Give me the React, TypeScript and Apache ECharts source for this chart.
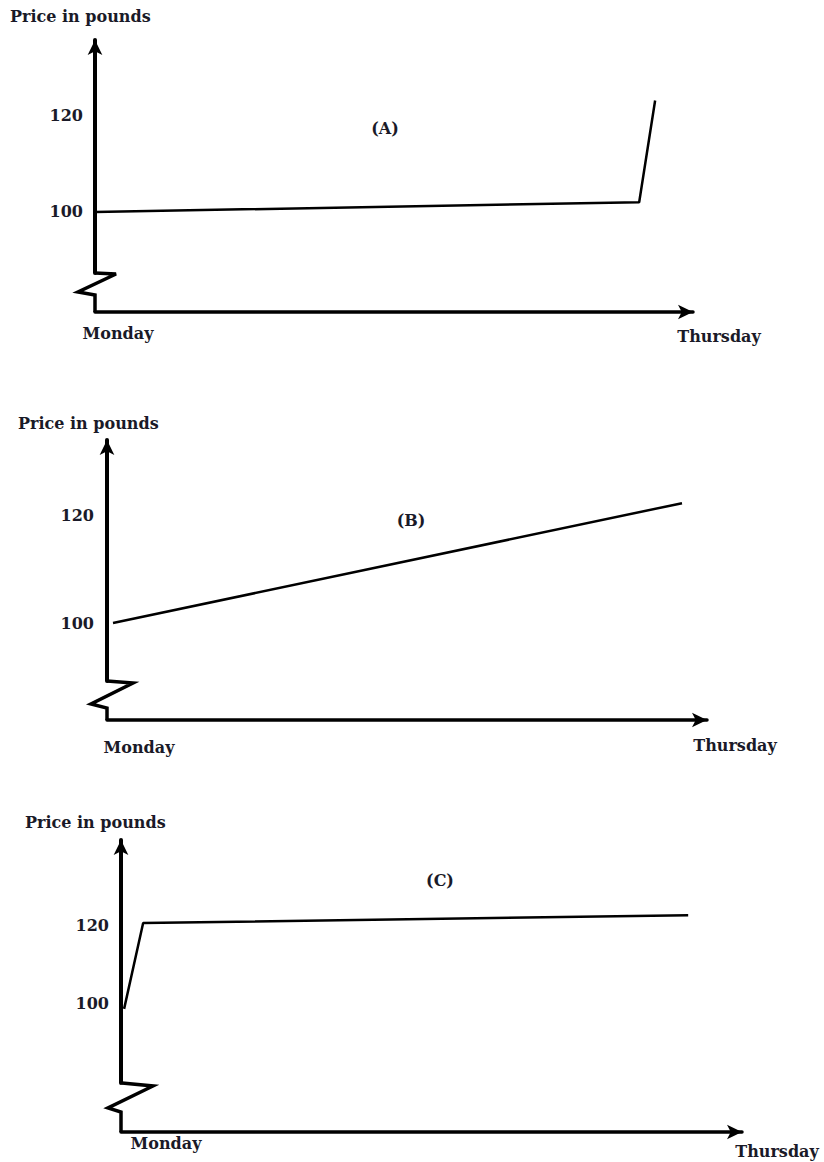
import React, { useEffect, useRef } from "react";
import * as echarts from "echarts";

// ---- data ----
const xTickValues = [0, 3];
const xTickLabels = ["Monday", "Thursday"];
const yTickValues = [100, 120];
const axisTitle = "Price in pounds";
const panelLabels = ["(A)", "(B)", "(C)"];

const seriesAX = [0, 2.73, 2.81];
const seriesAY = [100, 102, 123];
const seriesBX = [0.03, 2.875];
const seriesBY = [100, 122.2];
const seriesCX = [0.015, 0.107, 2.74];
const seriesCY = [98.5, 120.5, 122.5];

// ---- layout (pixels) ----
const panels = [
  { left: 95, width: 598, top: 40, bottom: 273, xAxisY: 312, yMin: 87.4, yMax: 135.5,
    title: [10, 16], label: [385, 128], labelMargin: 13, yLabelMargin: 12,
    monPad: [0, 0, 0, 46], thuPad: [3, 0, 0, 52],
    zig: [[95, 273], [116, 274], [78, 292], [95, 295], [95, 312]] },
  { left: 107, width: 600, top: 440, bottom: 681, xAxisY: 720, yMin: 89.26, yMax: 133.9,
    title: [18, 423], label: [411, 520], labelMargin: 17, yLabelMargin: 13,
    monPad: [2, 0, 0, 64], thuPad: [0, 0, 0, 56],
    zig: [[107, 681], [133, 683], [91, 704], [107, 708], [107, 720]] },
  { left: 121, width: 621, top: 840, bottom: 1083, xAxisY: 1132, yMin: 79.5, yMax: 141.8,
    title: [25, 822], label: [440, 880], labelMargin: 3, yLabelMargin: 12,
    monPad: [0, 0, 0, 90], thuPad: [8, 0, 0, 70],
    zig: [[122, 1083], [153, 1086], [108, 1108], [121, 1112], [121, 1132]] },
];

const seriesX = [seriesAX, seriesBX, seriesCX];
const seriesY = [seriesAY, seriesBY, seriesCY];

const FONT = "'DejaVu Serif', serif";
const TEXT = "#1a1a28";

export default function App() {
  const ref = useRef<HTMLDivElement>(null);
  useEffect(() => {
    if (!ref.current) return;
    const chart = echarts.init(ref.current, null, { renderer: "svg" });
    const grid = panels.map((p) => ({
      left: p.left, top: p.top, width: p.width, height: p.bottom - p.top, containLabel: false,
    }));
    const xAxis = panels.map((p, i) => ({
      type: "value", gridIndex: i, min: 0, max: 3, interval: 3,
      offset: p.xAxisY - p.bottom,
      axisLine: { show: true, symbol: ["none", "arrow"], symbolSize: [11, 15],
        lineStyle: { color: "#000", width: 3.5 } },
      axisTick: { show: false }, splitLine: { show: false },
      axisLabel: {
        show: true, margin: p.labelMargin, showMinLabel: true, showMaxLabel: true,
        formatter: (v: number) => {
          const idx = xTickValues.indexOf(v);
          if (idx < 0) return "";
          return idx === 0 ? `{m|${xTickLabels[idx]}}` : `{t|${xTickLabels[idx]}}`;
        },
        rich: {
          m: { fontFamily: FONT, fontWeight: "bold", fontSize: 16, color: TEXT, padding: p.monPad },
          t: { fontFamily: FONT, fontWeight: "bold", fontSize: 16, color: TEXT, padding: p.thuPad },
        },
      },
    }));
    const yAxis = panels.map((p, i) => ({
      type: "value", gridIndex: i, min: p.yMin, max: p.yMax,
      axisLine: { show: true, symbol: ["none", "arrow"], symbolSize: [11, 15],
        lineStyle: { color: "#000", width: 4 } },
      axisTick: { show: false }, splitLine: { show: false },
      axisLabel: {
        show: true, customValues: yTickValues, margin: p.yLabelMargin,
        fontFamily: FONT, fontWeight: "bold", fontSize: 16, color: TEXT,
      },
    }));
    const series = panels.map((p, i) => ({
      type: "line", xAxisIndex: i, yAxisIndex: i, symbol: "none",
      lineStyle: { color: "#000", width: 2.5 },
      data: seriesX[i].map((x, j) => [x, seriesY[i][j]]),
    }));
    const graphic: any[] = [];
    panels.forEach((p, i) => {
      graphic.push({
        type: "polyline", shape: { points: p.zig },
        style: { stroke: "#000", lineWidth: 3.5, fill: null, lineJoin: "miter" },
      });
      graphic.push({
        type: "text", x: p.title[0], y: p.title[1],
        style: { text: axisTitle, font: `bold 16px ${FONT}`, fill: TEXT, verticalAlign: "middle" },
      });
      graphic.push({
        type: "text", x: p.label[0], y: p.label[1],
        style: { text: panelLabels[i], font: `bold 16px ${FONT}`, fill: TEXT,
          align: "center", verticalAlign: "middle" },
      });
    });
    chart.setOption({
      animation: false,
      backgroundColor: "#fff",
      grid, xAxis, yAxis, series, graphic,
    });
    return () => chart.dispose();
  }, []);
  return (
    <div
      ref={ref}
      style={{ position: "absolute", left: 0, top: 0, width: 824, height: 1162, background: "#fff" }}
    />
  );
}
